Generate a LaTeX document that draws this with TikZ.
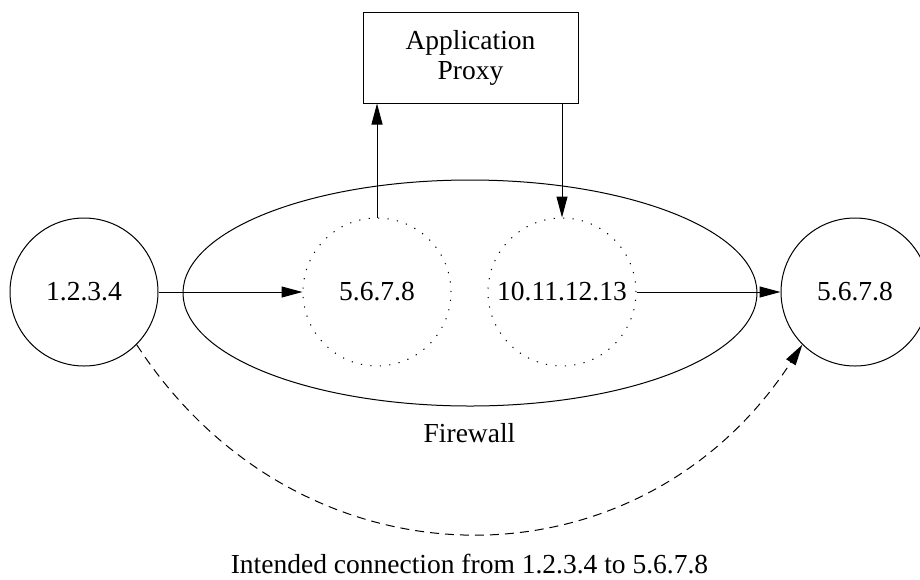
\documentclass[tikz,border=0pt]{standalone}
\usepackage{fontspec}
\setmainfont{Liberation Serif}
\usetikzlibrary{arrows.meta,positioning,shapes.geometric}

\begin{document}
\begin{tikzpicture}[x=1pt, y=-1pt, line width=1pt,
  font=\fontsize{27.5}{30}\selectfont,
  host/.style={circle, draw, minimum size=148pt, inner sep=0pt},
  addr/.style={circle, draw, dash pattern=on 1.2pt off 8.3pt, minimum size=148pt, inner sep=0pt},
  flow/.style={-{Triangle[length=21pt, width=11pt]}}]
\useasboundingbox (0,0) rectangle (920,579);
% Hosts
\node[host] (src) at (84,292) {1.2.3.4};
\node[host] (dst) at (855,292) {5.6.7.8};
% Firewall
\node[ellipse, draw, minimum width=574pt, minimum height=226pt] (fw) at (470,293) {};
\node[anchor=base] (fwname) at (469.5,442) {Firewall};
\node[addr] (inner) at (377,292) {5.6.7.8};
\node[addr] (outer) at (562,292) {10.11.12.13};
% Proxy box
\node[draw, minimum width=215pt, minimum height=91pt, align=center] (proxy) at (470.5,57.5) {Application\\Proxy};
% Connections
\draw[flow] (src.east) -- (inner.west);
\draw[flow] (inner.north) -- (inner.north |- proxy.south);
\draw[flow] (outer.north |- proxy.south) -- (outer.north);
\draw[flow] (outer.east) -- (dst.west);
% Intended path
\draw[flow, dash pattern=on 9pt off 6pt] (src.-45) .. controls +(163,251) and +(-163,251) .. (dst.-135);
\node[anchor=base] (intent) at (469.5,573) {Intended connection from 1.2.3.4 to 5.6.7.8};
\end{tikzpicture}
\end{document}
